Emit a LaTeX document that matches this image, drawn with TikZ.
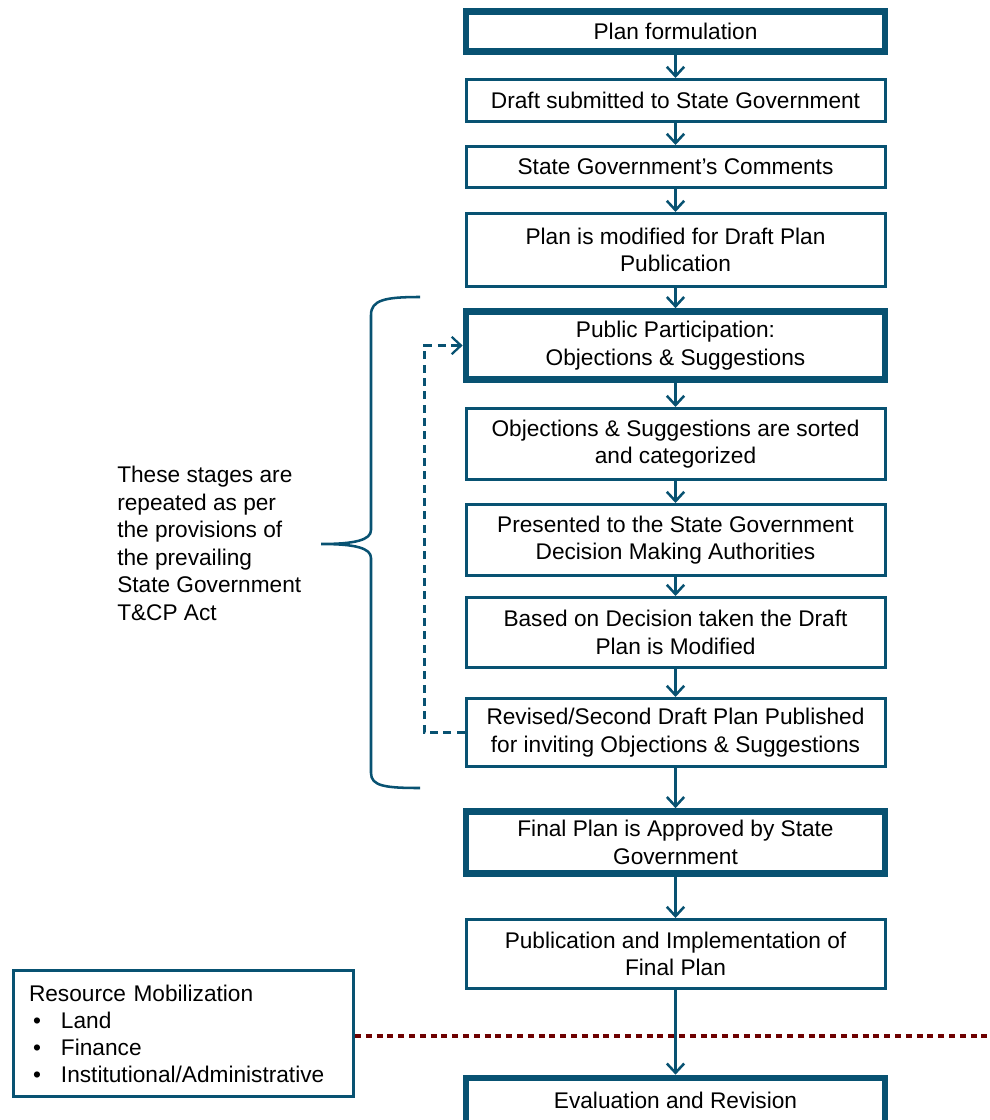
\documentclass[tikz,border=0pt]{standalone}
\usepackage{fontspec}
\setmainfont{Liberation Sans}
\usetikzlibrary{arrows.meta}
\definecolor{flowblue}{RGB}{8,82,114}
\definecolor{dotred}{RGB}{110,0,0}
\begin{document}
\begin{tikzpicture}[x=0.75pt,y=-0.75pt,
  font=\fontsize{17}{20.6}\selectfont,
  stage/.style={draw=flowblue,line width=2.25pt,minimum width=419*0.75pt,
    align=center,inner sep=0pt,fill=white},
  keystage/.style={stage,line width=5pt},
  flow/.style={draw=flowblue,line width=1.9pt,-{Straight Barb[length=7pt,width=13pt]}},
  loopback/.style={draw=flowblue,line width=1.7pt,dash pattern=on 6pt off 4pt,
    -{Straight Barb[length=7pt,width=13pt]}},
  brace/.style={draw=flowblue,line width=1.9pt},
  divider/.style={draw=dotred,line width=3.6pt,dash pattern=on 4.5pt off 3.6pt}]
\useasboundingbox (0,0) rectangle (989,1120);

% main sequence of stages
\node[keystage,minimum height=40*0.75pt] (b1) at (675.5,31.5) {Plan formulation};
\node[stage,minimum height=42*0.75pt] (b2) at (675.5,100.5) {Draft submitted to State Government};
\node[stage,minimum height=41*0.75pt] (b3) at (675.5,167) {State Government's Comments};
\node[stage,minimum height=73*0.75pt] (b4) at (675.5,250) {Plan is modified for Draft Plan\\Publication};
\node[keystage,minimum height=68*0.75pt] (b5) at (675.5,345.5) {Public Participation:\\Objections \& Suggestions};
\node[stage,minimum height=71*0.75pt] (b6) at (675.5,444) {Objections \& Suggestions are sorted\\and categorized};
\node[stage,minimum height=71*0.75pt] (b7) at (675.5,540) {Presented to the State Government\\Decision Making Authorities};
\node[stage,minimum height=70*0.75pt] (b8) at (675.5,632.5) {Based on Decision taken the Draft\\Plan is Modified};
\node[stage,minimum height=68*0.75pt] (b9) at (675.5,732.5) {Revised/Second Draft Plan Published\\for inviting Objections \& Suggestions};
\node[keystage,minimum height=62*0.75pt] (b10) at (675.5,842.5) {Final Plan is Approved by State\\Government};
\node[stage,minimum height=69*0.75pt] (b11) at (675.5,954) {Publication and Implementation of\\Final Plan};
% last stage runs past the lower edge of the page
\node[keystage,minimum height=58*0.75pt] (b12) at (675.5,1107) {\raisebox{10.5pt}{Evaluation and Revision}};

% arrows between stages
\foreach \a/\b in {b1/b2,b2/b3,b3/b4,b4/b5,b5/b6,b6/b7,b7/b8,b8/b9,b9/b10,b10/b11,b11/b12}
  \draw[flow] (\a.south) -- (\b.north);

% loop back from the revised draft to public participation
\draw[loopback] (b9.west) -- ++(-40,0) |- (b5.west);

% brace grouping the repeated stages
\draw[brace] (420,297) .. controls (385,297) and (371,300) .. (371,315)
  -- (371,530) .. controls (371,540) and (355,544) .. (321,544)
  .. controls (355,544) and (371,548) .. (371,558)
  -- (371,773) .. controls (371,786) and (385,788) .. (420,788);
\node[anchor=west,align=left,inner sep=0pt] (note) at (117,543.5)
  {These stages are\\repeated as per\\the provisions of\\the prevailing\\State Government\\T\&CP Act};

% resource mobilization box
\node[draw=flowblue,line width=2.25pt,minimum width=340*0.75pt,minimum height=126*0.75pt,
  text width=309*0.75pt,inner xsep=15.5*0.75pt,inner ysep=0pt,align=left,
  font=\fontsize{17}{20.25}\selectfont] (res) at (183.5,1033.5)
  {Resource Mobilization\\
   \hspace*{3pt}\makebox[21pt][l]{\textbullet}Land\\
   \hspace*{3pt}\makebox[21pt][l]{\textbullet}Finance\\
   \hspace*{3pt}\makebox[21pt][l]{\textbullet}Institutional/Administrative};

% dotted divider line
\coordinate (edge) at (989,1036);
\draw[divider] (res.east |- edge) -- (edge);
\end{tikzpicture}
\end{document}
